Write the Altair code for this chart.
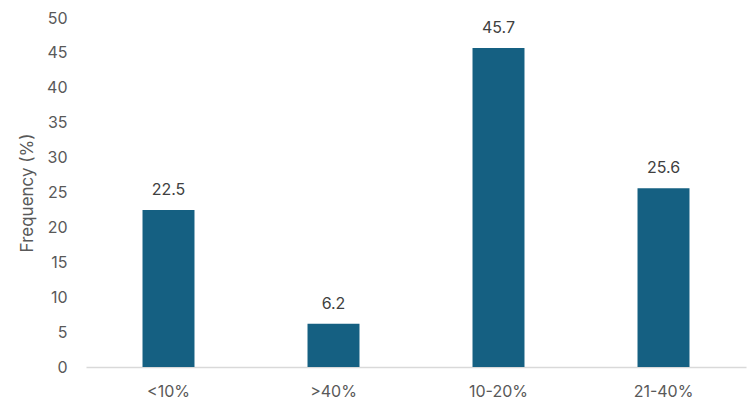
import altair as alt
import pandas as pd

categories = ["<10%", ">40%", "10-20%", "21-40%"]
values = [22.5, 6.2, 45.7, 25.6]
y_ticks = [0, 5, 10, 15, 20, 25, 30, 35, 40, 45, 50]

df = pd.DataFrame({"cat": categories, "val": values})
FONT = "Inter"

base = alt.Chart(df).encode(
    x=alt.X("cat:N", sort=categories, title=None,
            scale=alt.Scale(paddingInner=0.685, paddingOuter=0.3425),
            axis=alt.Axis(labelAngle=0, labelFontSize=16, labelColor="#595959",
                          labelFont=FONT, domainColor="#d9d9d9", domainWidth=1.5,
                          ticks=False, labelPadding=16)),
    y=alt.Y("val:Q", title="Frequency (%)",
            scale=alt.Scale(domain=[0, 50], nice=False),
            axis=alt.Axis(values=y_ticks, grid=False, domain=False, ticks=False,
                          labelFontSize=16, labelColor="#595959", labelFont=FONT,
                          labelPadding=19, titleFontSize=17, titleColor="#595959",
                          titleFont=FONT, titleFontWeight="normal", titlePadding=10)),
)

bars = base.mark_bar(color="#156082")
text = base.mark_text(dy=-20, fontSize=16, color="#404040", font=FONT).encode(
    text=alt.Text("val:Q", format=".1f"))

chart = (bars + text).properties(
    width=660, height=349,
    autosize=alt.AutoSizeParams(type="none"),
    padding={"left": 86, "top": 18, "right": 4, "bottom": 35},
).configure_view(stroke=None)

chart.save("out.html", embed_options={"renderer": "svg", "actions": False})
